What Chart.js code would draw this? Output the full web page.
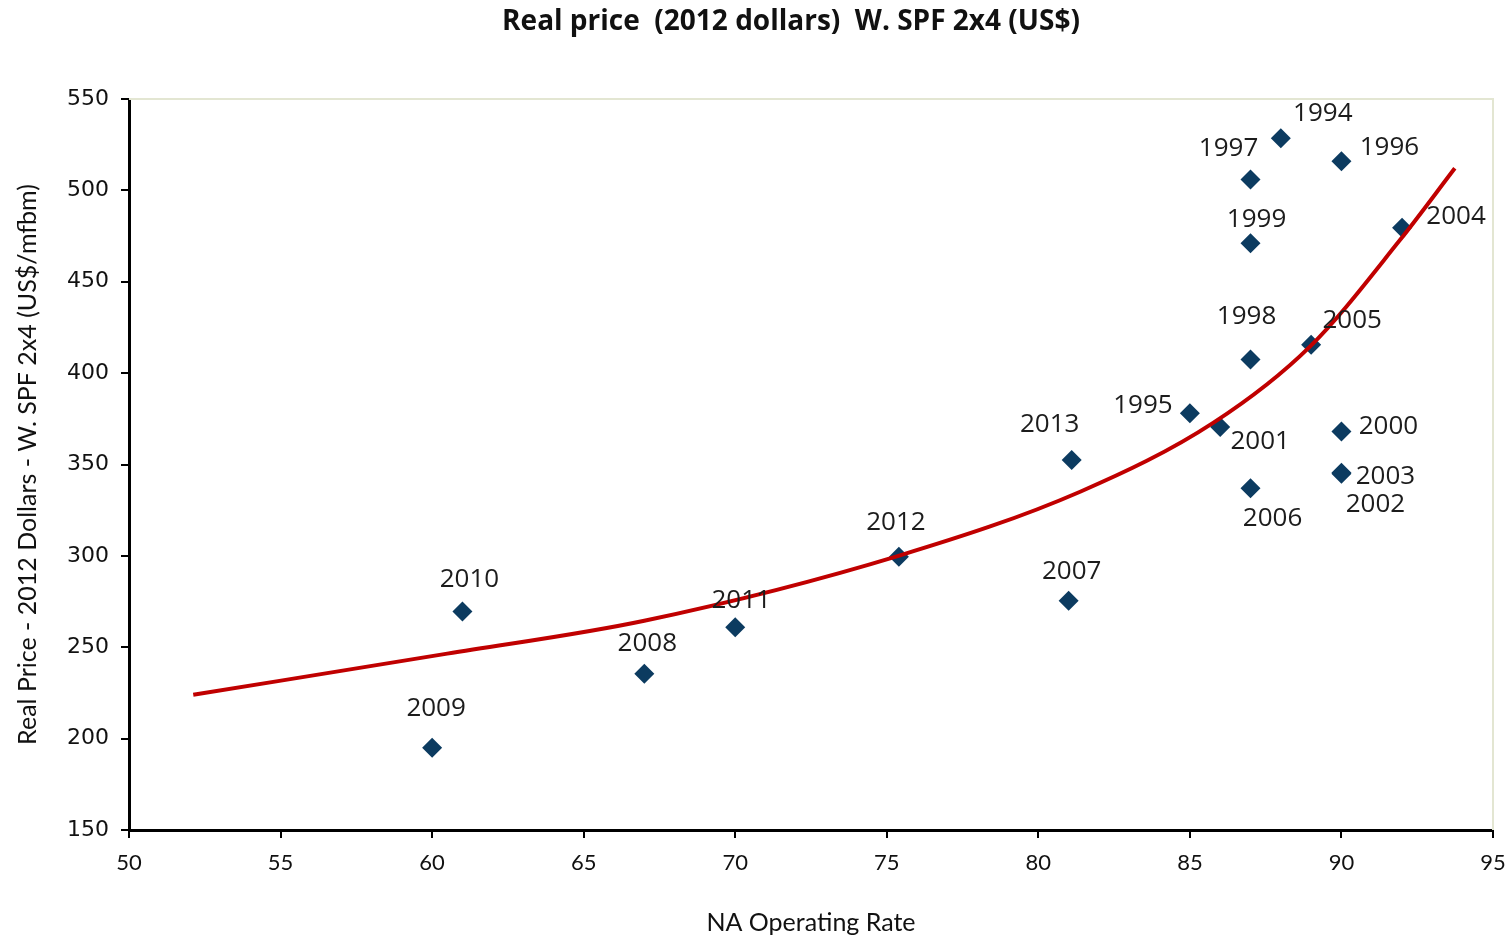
<!DOCTYPE html>
<html>
<head>
<meta charset="utf-8">
<script src="https://cdn.jsdelivr.net/npm/chart.js@4"></script>
<style>
  html, body { margin: 0; padding: 0; background: #fff; }
  #wrap { width: 1512px; height: 938px; }
</style>
</head>
<body>
<div id="wrap"><canvas id="myChart" width="1512" height="938"></canvas></div>
<script>
// scatter points: year, operating rate (%), real price (US$/mfbm)
const years = ["1994", "1995", "1996", "1997", "1998", "1999", "2000", "2001", "2002", "2003",
  "2004", "2005", "2006", "2007", "2008", "2009", "2010", "2011", "2012", "2013"];
const rates = [88, 85, 90, 87, 87, 87, 90, 86, 90, 90,
  92, 89, 87, 81, 67, 60, 61, 70, 75.4, 81.1];
const prices = [528.5, 378, 516, 506, 407.5, 471, 368, 370.5, 345, 345.5,
  479.5, 415.5, 337, 275.5, 235.5, 195, 269.5, 261, 299.5, 352.5];

// trend line
const trendX = [52.12, 60.5, 67, 75.44, 81.38, 85.78, 88.96, 91.93, 93.74];
const trendY = [224, 246.5, 264.5, 300.3, 335.1, 372.9, 414.5, 472.8, 512.1];

const xTicks = [50, 55, 60, 65, 70, 75, 80, 85, 90, 95];
const yTicks = [150, 200, 250, 300, 350, 400, 450, 500, 550];

const chartTitle = "Real price  (2012 dollars)  W. SPF 2x4 (US$)";

// where each year label sits relative to its marker (px)
const labelOffsets = {
  "1994": [42, -25], "1995": [-47, -8], "1996": [48, -14], "1997": [-22, -31],
  "1998": [-4, -43], "1999": [6, -24], "2000": [47, -5], "2001": [40, 15],
  "2002": [34, 31], "2003": [44, 4], "2004": [54, -11], "2005": [41, -24],
  "2006": [22, 30], "2007": [3, -29], "2008": [3, -30], "2009": [4, -39],
  "2010": [7, -32], "2011": [6, -27], "2012": [-3, -34], "2013": [-22, -35]
};

const points = rates.map((r, i) => ({ x: r, y: prices[i] }));
const trend = trendX.map((x, i) => ({ x: x, y: trendY[i] }));

const yearLabels = {
  id: "yearLabels",
  afterDatasetsDraw(chart) {
    const ctx = chart.ctx;
    const meta = chart.getDatasetMeta(1);
    ctx.save();
    ctx.font = "26px 'Open Sans'";
    ctx.fillStyle = "#1c1c1c";
    ctx.textAlign = "center";
    ctx.textBaseline = "middle";
    meta.data.forEach((el, i) => {
      const off = labelOffsets[years[i]] || [0, -30];
      ctx.fillText(years[i], el.x + off[0], el.y + off[1]);
    });
    ctx.restore();
  }
};

// light top/right border, plus the title (it sits a bit right of centre)
const frame = {
  id: "frame",
  beforeDatasetsDraw(chart) {
    const { ctx, chartArea } = chart;
    ctx.save();
    ctx.strokeStyle = "#e3e6d2";
    ctx.lineWidth = 2;
    ctx.beginPath();
    ctx.moveTo(chartArea.left, chartArea.top);
    ctx.lineTo(chartArea.right, chartArea.top);
    ctx.lineTo(chartArea.right, chartArea.bottom);
    ctx.stroke();

    ctx.font = "bold 28px 'Open Sans'";
    ctx.fillStyle = "#111";
    ctx.textAlign = "center";
    ctx.textBaseline = "middle";
    ctx.fillText(chartTitle, 791, 22);
    ctx.restore();
  }
};

const ctx = document.getElementById("myChart").getContext("2d");
new Chart(ctx, {
  type: "scatter",
  data: {
    datasets: [
      {
        label: "Trend",
        data: trend,
        showLine: true,
        borderColor: "#c00000",
        borderWidth: 4,
        pointRadius: 0,
        cubicInterpolationMode: "monotone",
        fill: false,
        order: 1
      },
      {
        label: "Price",
        data: points,
        pointStyle: "rectRot",
        pointRadius: 10,
        backgroundColor: "#0c3b60",
        borderColor: "#0c3b60",
        borderWidth: 0,
        order: 2
      }
    ]
  },
  options: {
    responsive: false,
    animation: false,
    layout: { padding: { top: 99, left: 0, right: 0, bottom: 0 } },
    plugins: {
      legend: { display: false },
      tooltip: { enabled: false },
      title: { display: false }
    },
    scales: {
      x: {
        type: "linear",
        min: 50,
        max: 95,
        afterBuildTicks: (axis) => { axis.ticks = xTicks.map((v) => ({ value: v })); },
        afterFit: (axis) => {
          axis.height = 108;
          axis.paddingRight = 19;
          axis.paddingLeft = 0;
        },
        grid: { drawOnChartArea: false, tickLength: 8, color: "#000", lineWidth: 2 },
        border: { color: "#000", width: 3 },
        ticks: { padding: 12, color: "#111", font: { family: "Lato", size: 22 } },
        title: {
          display: true,
          text: "NA Operating Rate",
          color: "#111",
          font: { family: "Lato", size: 25 },
          padding: { top: 3, bottom: 0 }
        }
      },
      y: {
        type: "linear",
        min: 150,
        max: 550,
        afterBuildTicks: (axis) => { axis.ticks = yTicks.map((v) => ({ value: v })); },
        afterFit: (axis) => {
          axis.width = 129;
          axis.paddingTop = 0;
        },
        grid: { drawOnChartArea: false, tickLength: 8, color: "#000", lineWidth: 2 },
        border: { color: "#000", width: 3 },
        ticks: { padding: 12, color: "#111", font: { family: "DejaVu Sans", size: 22 } },
        title: {
          display: true,
          text: "Real Price - 2012 Dollars - W. SPF 2x4 (US$/mfbm)",
          color: "#111",
          font: { family: "Lato", size: 25 },
          padding: { top: 13, bottom: 0 }
        }
      }
    }
  },
  plugins: [frame, yearLabels]
});
</script>
</body>
</html>
